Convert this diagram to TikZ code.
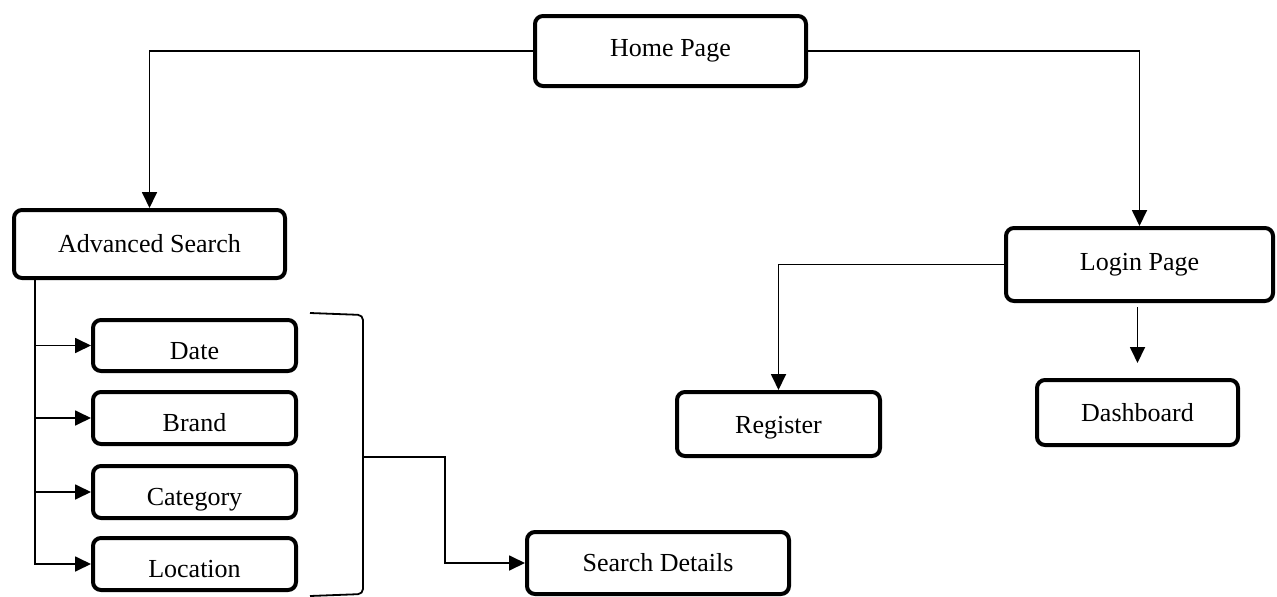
\documentclass[tikz,border=0pt]{standalone}
\usepackage{fontspec}
\setmainfont{Liberation Serif}
\usepackage{tikz}
\usetikzlibrary{arrows.meta}

\begin{document}
\begin{tikzpicture}[x=1pt, y=-1pt,
  page/.style={draw, line width=4pt, rounded corners=8pt, inner sep=0pt,
    font=\fontsize{26}{30}\selectfont},
  filter/.style={page, minimum width=203pt, minimum height=52pt,
    text height=27pt, text depth=0pt},
  link/.style={line width=1.8pt},
  tip/.style={-{Triangle[length=16pt, width=15pt]}}]
\useasboundingbox (0,0) rectangle (1277,597);
% Top level pages
\node[page, minimum width=271pt, minimum height=70pt] (home) at (670.5,51) {Home Page};
\node[page, minimum width=271pt, minimum height=68pt] (adv) at (149.5,244) {Advanced Search};
\node[page, minimum width=267pt, minimum height=73pt] (login) at (1139.5,264.5) {Login Page};
\node[page, minimum width=203pt, minimum height=64pt, text height=18pt, text depth=0pt]
  (reg) at (778.5,424) {Register};
\node[page, minimum width=201pt, minimum height=65pt] (dash) at (1137.5,412.5) {Dashboard};
% Search filters
\node[filter, minimum height=51pt] (date) at (194.5,345.5) {Date};
\node[filter] (brand) at (194.5,418) {Brand};
\node[filter] (cat) at (194.5,492) {Category};
\node[filter] (loc) at (194.5,564) {Location};
\node[page, minimum width=262pt, minimum height=62pt] (search) at (658,563) {Search Details};
% Links from the home page
\draw[link, tip] (home.west) -| (adv.north);
\draw[link, tip] (home.east) -| (login.north);
\draw[link, tip] (login.west) -| (reg.north);
\draw[link, tip, shorten <=4pt, shorten >=15pt] (login.south -| dash.north) -- (dash.north);
% Filter branches
\foreach \f in {date, brand, cat, loc}
  \draw[link, tip] ([xshift=23pt]adv.south west) |- (\f.west);
% Bracket round the filters
\draw[link, rounded corners=5pt] (310,313) -- (363,315) -- (363,594) -- (310,596);
\coordinate (brace) at (363,457);
\draw[link, tip] (brace) -| ([xshift=-80pt]search.west) -- (search.west);
\end{tikzpicture}
\end{document}
